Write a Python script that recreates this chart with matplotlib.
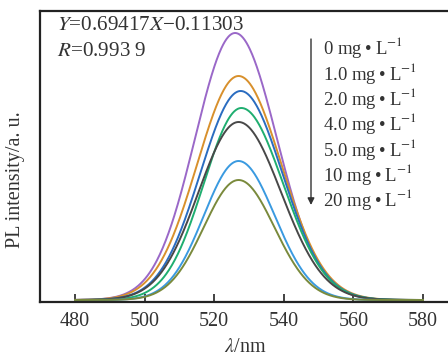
import numpy as np
import matplotlib
matplotlib.use("Agg")
import matplotlib.pyplot as plt

plt.rcParams['font.family'] = ['Liberation Serif', 'DejaVu Serif']
plt.rcParams['mathtext.fontset'] = 'stix'

# ---- data ----
concentrations = ["0", "1.0", "2.0", "4.0", "5.0", "10", "20"]
peak_heights = [267, 224, 209, 192, 178, 139, 120]
peak_centers = [526.0, 527.0, 527.6, 527.8, 527.0, 527.0, 527.0]
sigma_left = [11.5, 11.9, 11.6, 10.8, 11.5, 10.0, 10.0]
sigma_right = [12.0, 12.3, 12.0, 12.0, 12.2, 10.4, 10.3]
baseline = 2.0
colors = ["#9a68c8", "#d8902c", "#2a6cc0", "#1fae70", "#484848", "#3a9ae0", "#7a8a3c"]
xticks = [480, 500, 520, 540, 560, 580]
equation = "$Y$=0.69417$X$\u22120.11303"
r_text = "$R$=0.993 9"

wl = np.linspace(480, 580, 600)

W, H = 448, 358
fig = plt.figure(figsize=(W / 100, H / 100), dpi=100)
ax = fig.add_axes([40 / W, (H - 302) / H, 410 / W, 291 / H])

for h, c, sl, sr, col in zip(peak_heights, peak_centers, sigma_left, sigma_right, colors):
    s = np.where(wl < c, sl, sr)
    y = baseline + h * np.exp(-(wl - c) ** 2 / (2 * s ** 2))
    ax.plot(wl, y, color=col, lw=1.4)

ax.set_xlim(469.94, 587.76)
ax.set_ylim(0, 291)
ax.set_xticks(xticks)
ax.set_yticks([])
ax.tick_params(axis='x', direction='in', length=6, width=1.2, labelsize=14.5, pad=7, colors='#222222')
for sp in ax.spines.values():
    sp.set_linewidth(1.6)
    sp.set_color('#222222')
for lab in ax.get_xticklabels():
    lab.set_color('#333333')

fig.text(245 / W, 1 - 348 / H, r"$\lambda$/nm", ha='center', va='center', fontsize=14.5, color='#333333')
fig.text(16 / W, 1 - 180 / H, "PL intensity/a. u.", ha='center', va='center', rotation=90, fontsize=14.5, color='#333333')

fig.text(57 / W, 1 - 25 / H, equation, ha='left', va='center', fontsize=15.2, color='#333333')
fig.text(57 / W, 1 - 52 / H, r_text, ha='left', va='center', fontsize=15.2, color='#333333')

# legend text with arrow
ys = np.linspace(48, 200, len(concentrations))
for conc, yy in zip(concentrations, ys):
    fig.text(323 / W, 1 - yy / H, conc + " mg\u2009\u2022\u2009L$^{-1}$", ha='left', va='center', fontsize=13.5, color='#333333')
fig.add_artist(matplotlib.patches.FancyArrowPatch((311 / W, 1 - 39 / H), (311 / W, 1 - 205 / H),
                                                  transform=fig.transFigure, arrowstyle='-|>,head_length=4,head_width=2',
                                                  lw=1.0, color='#333333', shrinkA=0, shrinkB=0))

fig.savefig("out.png", dpi=100)
